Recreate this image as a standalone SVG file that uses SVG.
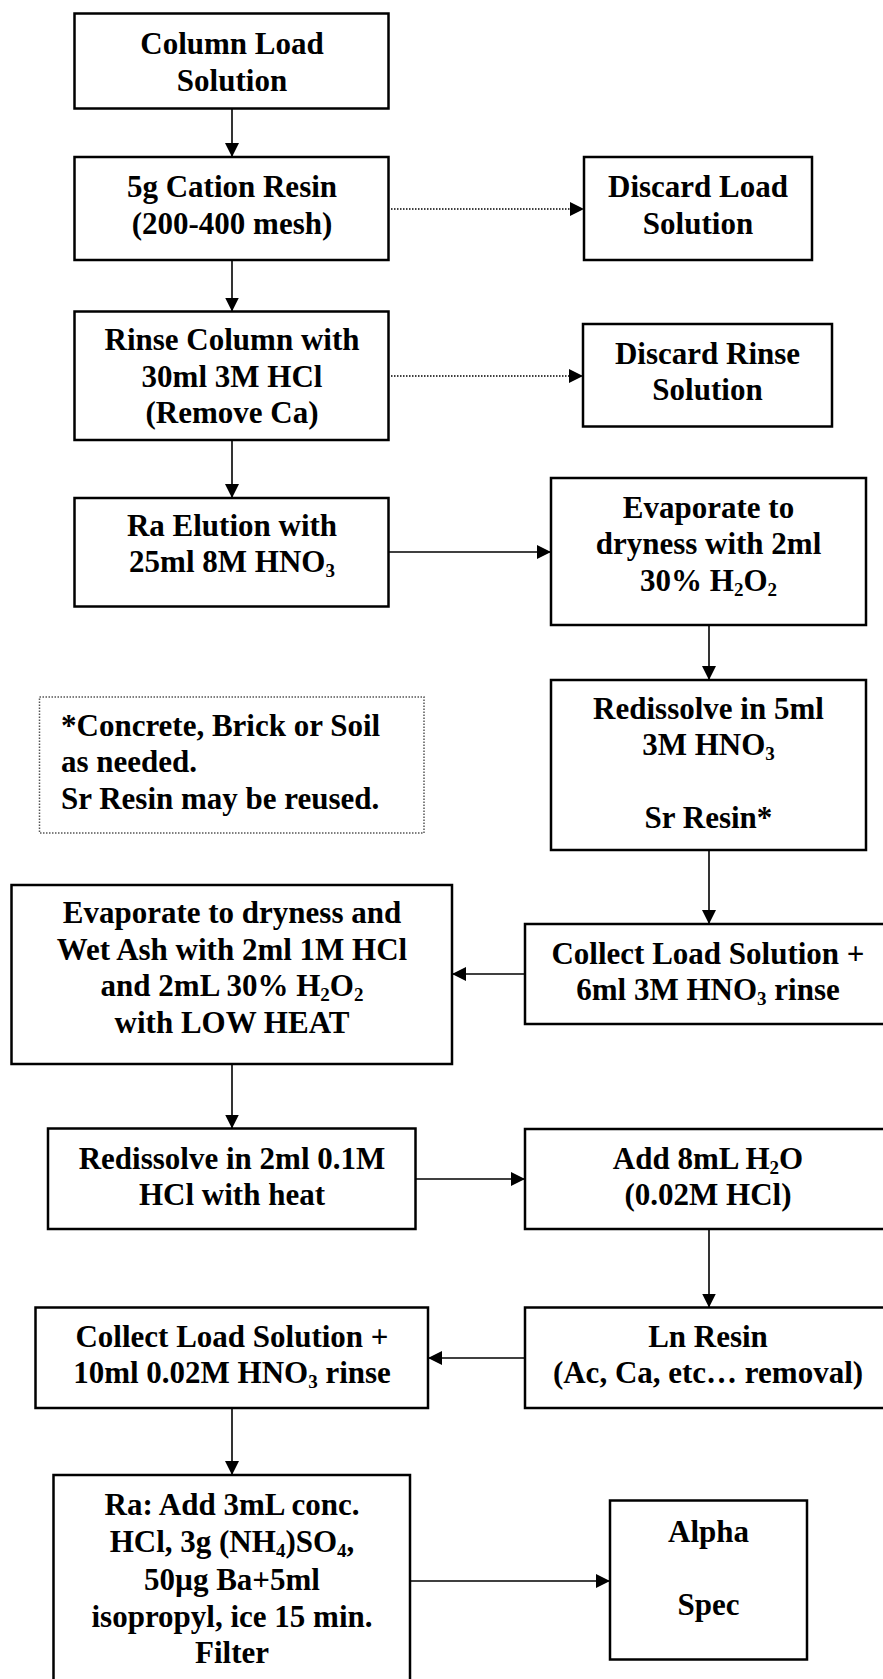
<svg xmlns="http://www.w3.org/2000/svg" width="883" height="1679" viewBox="0 0 883 1679">
<defs>
<marker id="ah" markerUnits="userSpaceOnUse" markerWidth="14" markerHeight="14" refX="14" refY="7" orient="auto">
<path d="M0,0 L14,7 L0,14 z" fill="#000"/>
</marker>
<style>
.box{fill:#fff;stroke:#000;stroke-width:2.5}
.note{fill:#fff;stroke:#555;stroke-width:1.5;stroke-dasharray:1.5 1.5}
.t{font-family:"Liberation Serif","Times New Roman",serif;font-weight:bold;font-size:31px;fill:#000;text-anchor:middle}
.tl{font-family:"Liberation Serif","Times New Roman",serif;font-weight:bold;font-size:31px;fill:#000}
.sub{font-size:19px}
.c{fill:none;stroke:#000;stroke-width:1.6;marker-end:url(#ah)}
.d{fill:none;stroke:#000;stroke-width:1.6;stroke-dasharray:1.5 1.5;marker-end:url(#ah)}
</style>
</defs>
<rect width="883" height="1679" fill="#fff"/>

<g id="connectors">
<line class="c" x1="232" y1="108.5" x2="232" y2="157"/>
<line class="c" x1="232" y1="260" x2="232" y2="311.5"/>
<line class="c" x1="232" y1="440" x2="232" y2="498"/>
<line class="d" x1="391" y1="209" x2="584" y2="209"/>
<line class="d" x1="391" y1="376" x2="583" y2="376"/>
<line class="c" x1="388.5" y1="552" x2="551" y2="552"/>
<line class="c" x1="709" y1="625" x2="709" y2="680"/>
<line class="c" x1="709" y1="850" x2="709" y2="924"/>
<line class="c" x1="525" y1="974" x2="452" y2="974"/>
<line class="c" x1="232" y1="1064" x2="232" y2="1128.5"/>
<line class="c" x1="415.5" y1="1179" x2="525" y2="1179"/>
<line class="c" x1="709" y1="1229" x2="709" y2="1307.5"/>
<line class="c" x1="525" y1="1358" x2="428" y2="1358"/>
<line class="c" x1="232" y1="1408" x2="232" y2="1475"/>
<line class="c" x1="410" y1="1581" x2="610" y2="1581"/>
</g>

<g id="n1">
<rect class="box" x="74.5" y="13.5" width="314" height="95"/>
<text class="t" x="232" y="54">Column Load</text>
<text class="t" x="232" y="91">Solution</text>
</g>

<g id="n2">
<rect class="box" x="74.5" y="157" width="314" height="103"/>
<text class="t" x="232" y="197">5g Cation Resin</text>
<text class="t" x="232" y="233.5">(200-400 mesh)</text>
</g>

<g id="n3">
<rect class="box" x="584" y="157" width="228" height="103"/>
<text class="t" x="698" y="197">Discard Load</text>
<text class="t" x="698" y="233.5">Solution</text>
</g>

<g id="n4">
<rect class="box" x="74.5" y="311.5" width="314" height="128.5"/>
<text class="t" x="232" y="350">Rinse Column with</text>
<text class="t" x="232" y="386.5">30ml 3M HCl</text>
<text class="t" x="232" y="423">(Remove Ca)</text>
</g>

<g id="n5">
<rect class="box" x="583" y="324" width="249" height="102.5"/>
<text class="t" x="707.5" y="363.5">Discard Rinse</text>
<text class="t" x="707.5" y="400">Solution</text>
</g>

<g id="n6">
<rect class="box" x="74.5" y="498" width="314" height="108.5"/>
<text class="t" x="232" y="536">Ra Elution with</text>
<text class="t" x="232" y="572">25ml 8M HNO<tspan class="sub" dy="5">3</tspan></text>
</g>

<g id="n7">
<rect class="box" x="551" y="478" width="315" height="147"/>
<text class="t" x="708.5" y="517.5">Evaporate to</text>
<text class="t" x="708.5" y="554">dryness with 2ml</text>
<text class="t" x="708.5" y="590.5">30% H<tspan class="sub" dy="5">2</tspan><tspan dy="-5">O</tspan><tspan class="sub" dy="5">2</tspan></text>
</g>

<g id="n8">
<rect class="box" x="551" y="680" width="315" height="170"/>
<text class="t" x="708.5" y="718.5">Redissolve in 5ml</text>
<text class="t" x="708.5" y="755">3M HNO<tspan class="sub" dy="5">3</tspan></text>
<text class="t" x="708.5" y="828">Sr Resin*</text>
</g>

<g id="note">
<rect class="note" x="39.5" y="697" width="384.5" height="136"/>
<text class="tl" x="61" y="735.5">*Concrete, Brick or Soil</text>
<text class="tl" x="61" y="772">as needed.</text>
<text class="tl" x="61" y="809">Sr Resin may be reused.</text>
</g>

<g id="n9">
<rect class="box" x="525" y="924" width="366" height="100"/>
<text class="t" x="708" y="963.5">Collect Load Solution +</text>
<text class="t" x="708" y="1000">6ml 3M HNO<tspan class="sub" dy="5">3</tspan><tspan dy="-5"> rinse</tspan></text>
</g>

<g id="n10">
<rect class="box" x="11.5" y="885" width="440.5" height="179"/>
<text class="t" x="232" y="923">Evaporate to dryness and</text>
<text class="t" x="232" y="959.5">Wet Ash with 2ml 1M HCl</text>
<text class="t" x="232" y="996">and 2mL 30% H<tspan class="sub" dy="5">2</tspan><tspan dy="-5">O</tspan><tspan class="sub" dy="5">2</tspan></text>
<text class="t" x="232" y="1032.5">with LOW HEAT</text>
</g>

<g id="n11">
<rect class="box" x="48" y="1128.5" width="367.5" height="100.5"/>
<text class="t" x="232" y="1168.5">Redissolve in 2ml 0.1M</text>
<text class="t" x="232" y="1205">HCl with heat</text>
</g>

<g id="n12">
<rect class="box" x="525" y="1129" width="366" height="100"/>
<text class="t" x="708" y="1168.5">Add 8mL H<tspan class="sub" dy="5">2</tspan><tspan dy="-5">O</tspan></text>
<text class="t" x="708" y="1205">(0.02M HCl)</text>
</g>

<g id="n13">
<rect class="box" x="525" y="1307.5" width="366" height="100.5"/>
<text class="t" x="708" y="1346.5">Ln Resin</text>
<text class="t" x="708" y="1383">(Ac, Ca, etc… removal)</text>
</g>

<g id="n14">
<rect class="box" x="35.5" y="1307.5" width="392.5" height="100.5"/>
<text class="t" x="232" y="1346.5">Collect Load Solution +</text>
<text class="t" x="232" y="1383">10ml 0.02M HNO<tspan class="sub" dy="5">3</tspan><tspan dy="-5"> rinse</tspan></text>
</g>

<g id="n15">
<rect class="box" x="53.5" y="1475" width="356.5" height="230"/>
<text class="t" x="232" y="1515">Ra: Add 3mL conc.</text>
<text class="t" x="232" y="1552">HCl, 3g (NH<tspan class="sub" dy="5">4</tspan><tspan dy="-5">)SO</tspan><tspan class="sub" dy="5">4</tspan><tspan dy="-5">,</tspan></text>
<text class="t" x="232" y="1589.5">50µg Ba+5ml</text>
<text class="t" x="232" y="1626.5">isopropyl, ice 15 min.</text>
<text class="t" x="232" y="1663">Filter</text>
</g>

<g id="n16">
<rect class="box" x="610" y="1500.5" width="197" height="159"/>
<text class="t" x="708.5" y="1541.5">Alpha</text>
<text class="t" x="708.5" y="1615">Spec</text>
</g>
</svg>
